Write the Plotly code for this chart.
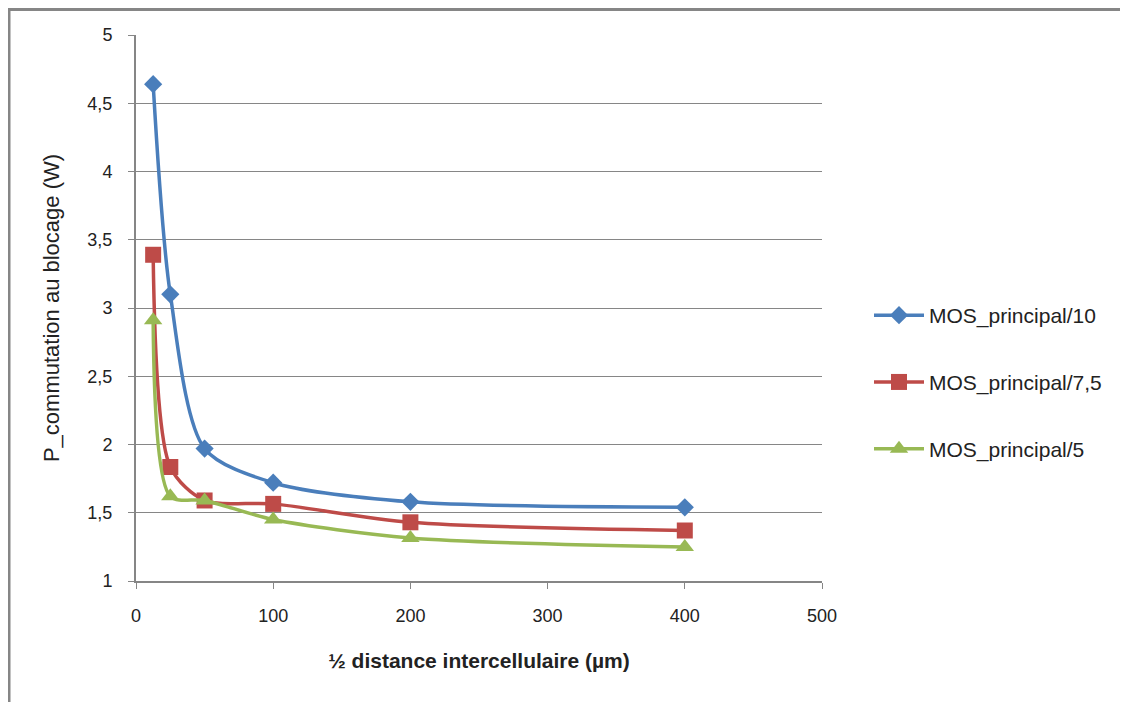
import plotly.graph_objects as go

x_vals = [12.5, 25, 50, 100, 200, 400]
mos10 = [4.64, 3.10, 1.97, 1.72, 1.58, 1.54]
mos75 = [3.39, 1.835, 1.59, 1.565, 1.43, 1.37]
mos5 = [2.91, 1.62, 1.59, 1.45, 1.315, 1.25]

series_names = ["MOS_principal/10", "MOS_principal/7,5", "MOS_principal/5"]
x_ticks = [0, 100, 200, 300, 400, 500]

# page is offset by the browser's 8px body margin
W, H = 1120, 694
L, R, T, B = 128, 814, 27, 573

fig = go.Figure()
styles = [
    ("#4A7EBB", "diamond", 14),
    ("#BE4B48", "square", 16),
    ("#98B954", "triangle-up", 16),
]
for name, ys, (col, sym, ms) in zip(series_names, [mos10, mos75, mos5], styles):
    fig.add_trace(go.Scatter(
        x=x_vals, y=ys, name=name, mode="lines+markers",
        line=dict(color=col, width=3.5, shape="spline", smoothing=0.8),
        marker=dict(symbol=sym, size=ms, color=col),
        legendgroup=name,
    ))

def px(p):
    return (p - L) / (R - L)

def py(p):
    return (B - p) / (B - T)

grey = "#868686"
fig.update_layout(
    width=W, height=H,
    margin=dict(l=L, r=W - R, t=T, b=H - B),
    paper_bgcolor="white", plot_bgcolor="white",
    separators=", ",
    font=dict(family="Liberation Sans, Arial, sans-serif", size=18, color="#222"),
    showlegend=True,
    legend=dict(x=px(861), y=py(287), xanchor="left", yanchor="top",
                font=dict(size=21), tracegroupgap=36.5, itemwidth=50,
                bgcolor="rgba(0,0,0,0)"),
    xaxis=dict(range=[0, 500], tickvals=x_ticks, showgrid=False,
               showline=True, linecolor=grey, linewidth=2,
               ticks="outside", ticklen=6, tickcolor=grey, tickwidth=1,
               ticklabelstandoff=11,
               zeroline=False,
               title=dict(text="<b>½ distance intercellulaire (µm)</b>", standoff=29,
                          font=dict(size=21))),
    yaxis=dict(range=[1, 5], dtick=0.5, showgrid=True, gridcolor=grey, gridwidth=1,
               showline=True, linecolor=grey, linewidth=2,
               ticks="outside", ticklen=6, tickcolor=grey, tickwidth=1,
               ticklabelstandoff=12,
               zeroline=False,
               title=dict(text="P_commutation au blocage (W)", standoff=22,
                          font=dict(size=22))),
    shapes=[
        dict(type="line", xref="paper", yref="paper",
             x0=px(0), x1=px(1125), y0=py(1.5), y1=py(1.5),
             line=dict(color=grey, width=3)),
        dict(type="line", xref="paper", yref="paper",
             x0=px(1), x1=px(1), y0=py(1.5), y1=py(700),
             line=dict(color=grey, width=3)),
    ],
)

fig.write_html("out.html")
